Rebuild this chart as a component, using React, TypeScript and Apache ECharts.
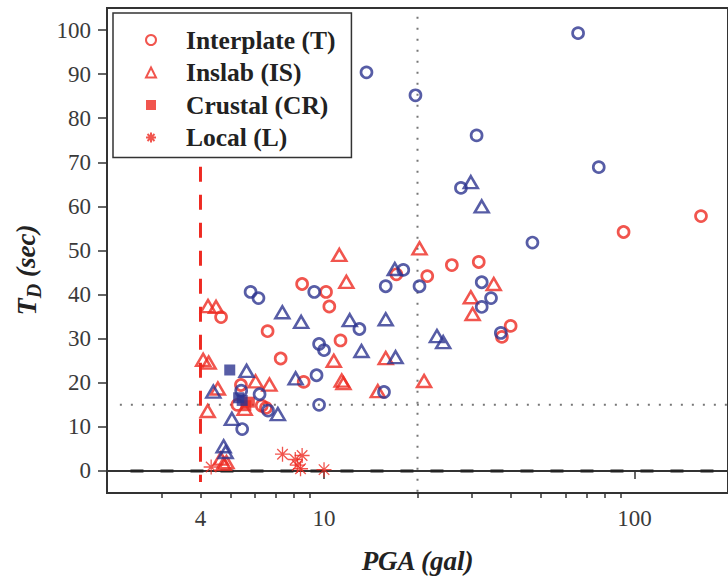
import React, { useEffect, useRef } from "react";
import * as echarts from "echarts";

// ---------- data (PGA in gal, TD in sec) ----------
const interplateRed: [number, number][] = [
  [4.66, 34.9], [6.58, 31.7], [8.5, 42.4], [10.15, 40.6], [10.4, 37.3], [11.3, 29.6],
  [7.25, 25.5], [8.6, 20.2], [5.4, 19.5], [5.26, 15.0], [6.3, 14.8], [6.5, 14.3],
  [17.1, 44.6], [21.5, 44.2], [25.8, 46.7], [31.5, 47.4], [39.9, 32.9], [37.4, 30.4],
  [92.2, 54.2], [163.7, 57.8],
];
const inslabRed: [number, number][] = [
  [4.23, 37.4], [4.49, 37.2], [4.08, 25.2], [4.25, 24.6], [4.55, 18.7], [4.22, 13.6],
  [4.65, 2.8], [4.85, 2.0], [4.75, 1.6], [6.02, 20.3], [6.67, 19.6], [5.55, 14.1],
  [10.75, 25.0], [11.4, 20.5], [11.55, 19.9], [11.2, 49.0], [11.8, 42.9], [15.8, 25.6],
  [14.9, 18.1], [20.3, 50.5], [21.0, 20.4], [35.2, 42.4], [29.7, 39.4], [30.1, 35.6],
];
const crustalRed: [number, number][] = [[5.6, 14.8], [5.75, 15.6]];
const localRed: [number, number][] = [
  [4.33, 0.9], [7.35, 3.8], [8.08, 2.6], [8.5, 3.5], [8.2, 1.3], [8.4, 0.5], [10.0, 0.3],
];
const interplateBlue: [number, number][] = [
  [13.7, 90.4], [19.7, 85.2], [31.0, 76.1], [65.8, 99.3], [76.7, 68.9], [27.6, 64.2],
  [46.9, 51.8], [20.3, 41.9], [15.8, 41.9], [18.0, 45.6], [32.2, 42.8], [34.5, 39.2],
  [32.2, 37.2], [37.1, 31.3], [13.0, 32.2], [15.6, 17.9], [9.64, 28.8], [10.0, 27.4],
  [9.46, 21.7], [9.64, 15.0], [9.3, 40.6], [5.8, 40.6], [6.15, 39.2], [5.41, 18.2],
  [6.2, 17.4], [6.6, 13.7], [5.45, 9.5],
];
const inslabBlue: [number, number][] = [
  [29.7, 65.5], [32.2, 60.0], [16.9, 45.8], [15.8, 34.4], [17.0, 25.8], [23.1, 30.6],
  [24.2, 29.2], [12.1, 34.2], [13.2, 27.2], [8.44, 33.8], [7.34, 36.0], [8.1, 21.0],
  [5.63, 22.7], [4.4, 18.0], [7.1, 12.9], [5.05, 11.8], [4.75, 5.6], [4.82, 4.3],
];
const crustalBlue: [number, number][] = [[4.97, 22.9], [5.31, 16.6], [5.45, 16.0]];

// reference lines
const pgaThresholdLine: [number, number][] = [[4, 69], [4, -2.5]];
const zeroLine: [number, number][] = [[2.38, 0], [200, 0]];
const td15Line: [number, number][] = [[2.2, 15], [200, 15]];
const pga20Line: [number, number][] = [[20, 103], [20, -5]];

// axes
const xMin = 2;
const xMax = 200;
const yMin = -5;
const yMax = 105;
const xMajorTicks = [10, 100];
const xMinorTicks = [3, 4, 5, 6, 7, 8, 9, 20, 30, 40, 50, 60, 70, 80, 90];
const xTickLabels = [4, 10, 100];
const yTicks = [0, 10, 20, 30, 40, 50, 60, 70, 80, 90, 100];

const legendNames = ["Interplate (T)", "Inslab (IS)", "Crustal (CR)", "Local (L)"];

const RED = "#EE2A22";
const BLUE = "#2D3490";
const SERIF = "'Liberation Serif', 'Times New Roman', serif";
const ASTERISK = "path://M10 0L10 20M0 10L20 10M3 3L17 17M17 3L3 17";

export default function App() {
  const ref = useRef<HTMLDivElement>(null);

  useEffect(() => {
    if (!ref.current) return;
    const chart = echarts.init(ref.current, null, { renderer: "svg" });

    const hollow = (color: string) => ({
      color: "rgba(255,255,255,0)",
      borderColor: color,
      borderWidth: 2.7,
    });

    const lineSeries = (name: string, data: [number, number][], lineStyle: any) => ({
      name,
      type: "line",
      data,
      symbol: "none",
      silent: true,
      z: 1,
      lineStyle,
      xAxisIndex: 0,
      yAxisIndex: 0,
    });

    const option: any = {
      animation: false,
      grid: {
        left: 107,
        top: 8,
        right: -6,
        bottom: 85,
        show: true,
        borderColor: "#333",
        borderWidth: 2,
        backgroundColor: "transparent",
      },
      legend: {
        data: legendNames,
        orient: "vertical",
        left: 113,
        top: 13,
        padding: [14, 16, 7, 32],
        itemWidth: 10,
        itemHeight: 10,
        itemGap: 6.5,
        borderColor: "#333",
        borderWidth: 1.5,
        backgroundColor: "#fff",
        selectedMode: false,
        textStyle: {
          fontFamily: SERIF,
          fontWeight: "bold",
          fontSize: 25.5,
          color: "#222",
          padding: [0, 0, 0, 25],
        },
      },
      xAxis: [
        {
          type: "log",
          logBase: 10,
          min: xMin,
          max: xMax,
          name: "PGA (gal)",
          nameLocation: "middle",
          nameGap: 54,
          nameTextStyle: {
            fontFamily: SERIF,
            fontWeight: "bold",
            fontStyle: "italic",
            fontSize: 27,
            color: "#222",
          },
          axisLine: { show: true, lineStyle: { color: "#333", width: 2 } },
          axisTick: {
            show: true,
            inside: false,
            length: 8,
            customValues: xMajorTicks,
            lineStyle: { color: "#333", width: 1.5 },
          },
          axisLabel: {
            show: true,
            customValues: xTickLabels,
            margin: 14,
            fontFamily: SERIF,
            fontSize: 23,
            color: "#3a3a3a",
          },
          splitLine: { show: false },
          minorTick: { show: false },
        },
        {
          type: "log",
          logBase: 10,
          min: xMin,
          max: xMax,
          position: "bottom",
          offset: 0,
          gridIndex: 0,
          axisLine: { show: false },
          axisTick: {
            show: true,
            inside: false,
            length: 5,
            customValues: xMinorTicks,
            lineStyle: { color: "#333", width: 1.5 },
          },
          axisLabel: { show: false },
          splitLine: { show: false },
        },
      ],
      yAxis: {
        type: "value",
        min: yMin,
        max: yMax,
        axisLine: { show: true, lineStyle: { color: "#333", width: 2 } },
        axisTick: {
          show: true,
          inside: false,
          length: 9,
          customValues: yTicks,
          lineStyle: { color: "#333", width: 1.5 },
        },
        axisLabel: {
          show: true,
          customValues: yTicks,
          margin: 16,
          fontFamily: SERIF,
          fontSize: 23,
          color: "#3a3a3a",
        },
        splitLine: { show: false },
      },
      graphic: [
        {
          type: "text",
          x: 26,
          y: 270,
          rotation: Math.PI / 2,
          style: {
            text: "{t|T}{d|D}{s| (sec)}",
            align: "center",
            verticalAlign: "middle",
            rich: {
              t: {
                fontFamily: SERIF,
                fontWeight: "bold",
                fontStyle: "italic",
                fontSize: 28,
                lineHeight: 28,
                verticalAlign: "top",
                fill: "#222",
              },
              d: {
                fontFamily: SERIF,
                fontWeight: "bold",
                fontStyle: "italic",
                fontSize: 20,
                lineHeight: 20,
                padding: [12, 0, 0, 0],
                verticalAlign: "top",
                fill: "#222",
              },
              s: {
                fontFamily: SERIF,
                fontWeight: "bold",
                fontStyle: "italic",
                fontSize: 27,
                lineHeight: 28,
                verticalAlign: "top",
                fill: "#222",
              },
            },
          },
        },
      ],
      series: [
        lineSeries("zero", zeroLine, { color: "#222", width: 3, type: [13, 17] }),
        lineSeries("td15", td15Line, { color: "#777", width: 2, type: [2, 9] }),
        lineSeries("pga20", pga20Line, { color: "#777", width: 2, type: [2, 9] }),
        lineSeries("pga4", pgaThresholdLine, { color: RED, width: 3, type: [15, 13] }),
        {
          name: "Interplate (T)",
          type: "scatter",
          data: interplateRed,
          symbol: "circle",
          symbolSize: 11,
          itemStyle: hollow(RED),
          z: 3,
        },
        {
          name: "Inslab (IS)",
          type: "scatter",
          data: inslabRed,
          symbol: "triangle",
          symbolSize: [14, 12],
          itemStyle: { ...hollow(RED), borderWidth: 2.5 },
          z: 3,
        },
        {
          name: "Crustal (CR)",
          type: "scatter",
          data: crustalRed,
          symbol: "rect",
          symbolSize: 11,
          itemStyle: { color: RED },
          z: 3,
        },
        {
          name: "Local (L)",
          type: "scatter",
          data: localRed,
          symbol: ASTERISK,
          symbolSize: 15,
          itemStyle: { color: RED, borderColor: RED, borderWidth: 1.3 },
          z: 3,
        },
        {
          name: "Interplate (T) blue",
          type: "scatter",
          data: interplateBlue,
          symbol: "circle",
          symbolSize: 11,
          itemStyle: hollow(BLUE),
          z: 3,
        },
        {
          name: "Inslab (IS) blue",
          type: "scatter",
          data: inslabBlue,
          symbol: "triangle",
          symbolSize: [14, 12],
          itemStyle: { ...hollow(BLUE), borderWidth: 2.5 },
          z: 3,
        },
        {
          name: "Crustal (CR) blue",
          type: "scatter",
          data: crustalBlue,
          symbol: "rect",
          symbolSize: 11,
          itemStyle: { color: BLUE },
          z: 3,
        },
      ],
    };

    chart.setOption(option);
    return () => chart.dispose();
  }, []);

  return (
    <div
      ref={ref}
      style={{ position: "absolute", left: 0, top: 0, width: 728, height: 579, background: "#fff" }}
    />
  );
}
